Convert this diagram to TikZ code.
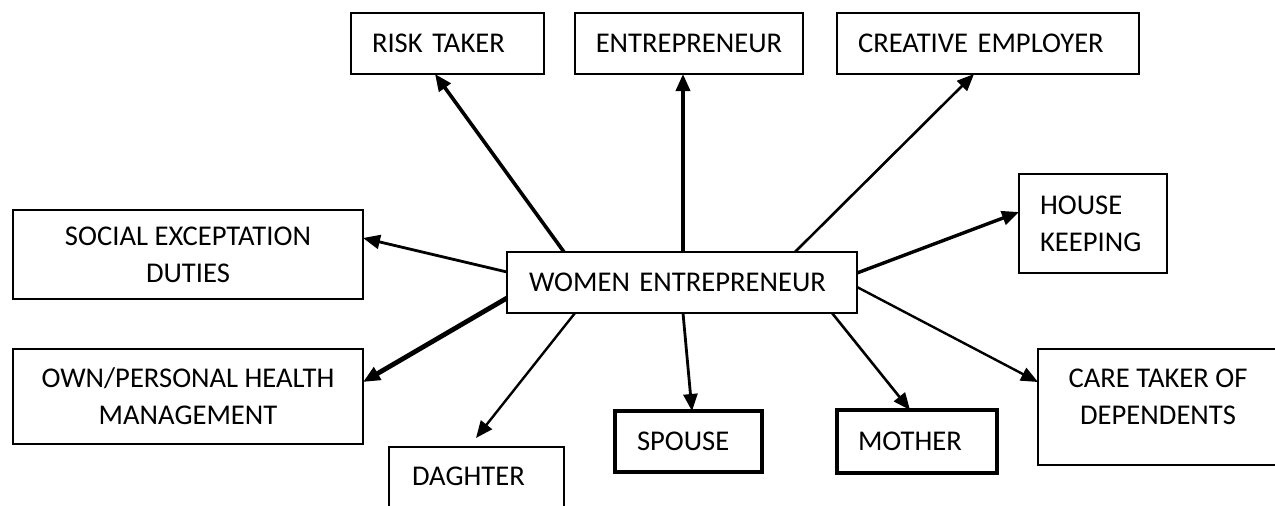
\documentclass[tikz,border=0pt]{standalone}
\usepackage{fontspec}
\setmainfont{Carlito}
\usetikzlibrary{arrows.meta,calc}
\tikzset{
    box/.style={draw,line width=1.2pt,inner sep=0pt,outer sep=0pt,anchor=north west,font=\fontsize{14.3}{18.5}\selectfont},
    cbox/.style 2 args={box,minimum width=#1,minimum height=#2,align=center},
    lbox/.style n args={3}{box,text width=#1,minimum height=#2,inner xsep=#3,align=left}
}
\begin{document}
\begin{tikzpicture}[x=0.5pt,y=-0.5pt,>={Triangle[length=8.5pt,width=7pt]}]
        \useasboundingbox (0,0) rectangle (1275,505);
        \node[lbox={153pt}{30.5pt}{11pt}] (women) at (507,252) {WOMEN ENTREPRENEUR};
        \node[lbox={75.5pt}{30.5pt}{10.5pt}] (risk) at (351,13) {RISK TAKER};
        \node[cbox={114pt}{30.5pt}] (entre) at (575,13) {ENTREPRENEUR};
        \node[lbox={130pt}{30.5pt}{10.5pt}] (creative) at (837,13) {CREATIVE EMPLOYER};
        \node[lbox={53pt}{49.5pt}{10.5pt}] (house) at (1019,174) {HOUSE\\KEEPING};
        \node[cbox={120pt}{58pt},text depth=10pt] (care) at (1038,349) {CARE TAKER OF\\DEPENDENTS};
        \node[lbox={59pt}{31.5pt}{10.5pt},line width=1.7pt] (mother) at (837,410) {MOTHER};
        \node[lbox={51.5pt}{30.5pt}{11pt},line width=1.7pt] (spouse) at (615,411) {SPOUSE};
        \node[lbox={64.5pt}{0pt}{11.5pt},inner ysep=10pt,text depth=40pt,line width=1.1pt] (daghter) at (389,447) {DAGHTER};
        \node[cbox={175pt}{47.5pt}] (own) at (13,349) {OWN/PERSONAL HEALTH\\MANAGEMENT};
        \node[cbox={175pt}{44.5pt}] (social) at (13,210) {SOCIAL EXCEPTATION\\DUTIES};
        \draw[->,line width=1.8pt] ($(women.north west)+(57,0)$) -- ($(risk.south west)+(84,0)$);
        \draw[->,line width=1.8pt] ($(women.north west)+(176,0)$) -- ($(entre.south west)+(108,0)$);
        \draw[->,line width=1.3pt] ($(women.north west)+(288,0)$) -- ($(creative.south west)+(137,0)$);
        \draw[->,line width=1.7pt] ($(women.north east)+(0,21)$) -- ($(house.north west)+(0,38)$);
        \draw[->,line width=1.2pt] ($(women.north east)+(0,35)$) -- ($(care.north west)+(0,33)$);
        \draw[->,line width=1.3pt] ($(women.south east)+(-25,0)$) -- ($(mother.north west)+(73,0)$);
        \draw[->,line width=1.4pt] ($(women.south west)+(176,0)$) -- ($(spouse.north west)+(77,0)$);
        \draw[->,line width=1.2pt] ($(women.south west)+(68,0)$) -- ($(daghter.north west)+(87,-9)$);
        \draw[->,line width=2.4pt] ($(women.south west)+(0,-15)$) -- ($(own.north east)+(0,33)$);
        \draw[->,line width=1.4pt] ($(women.north west)+(0,20)$) -- ($(social.north east)+(0,28)$);
\end{tikzpicture}
\end{document}
